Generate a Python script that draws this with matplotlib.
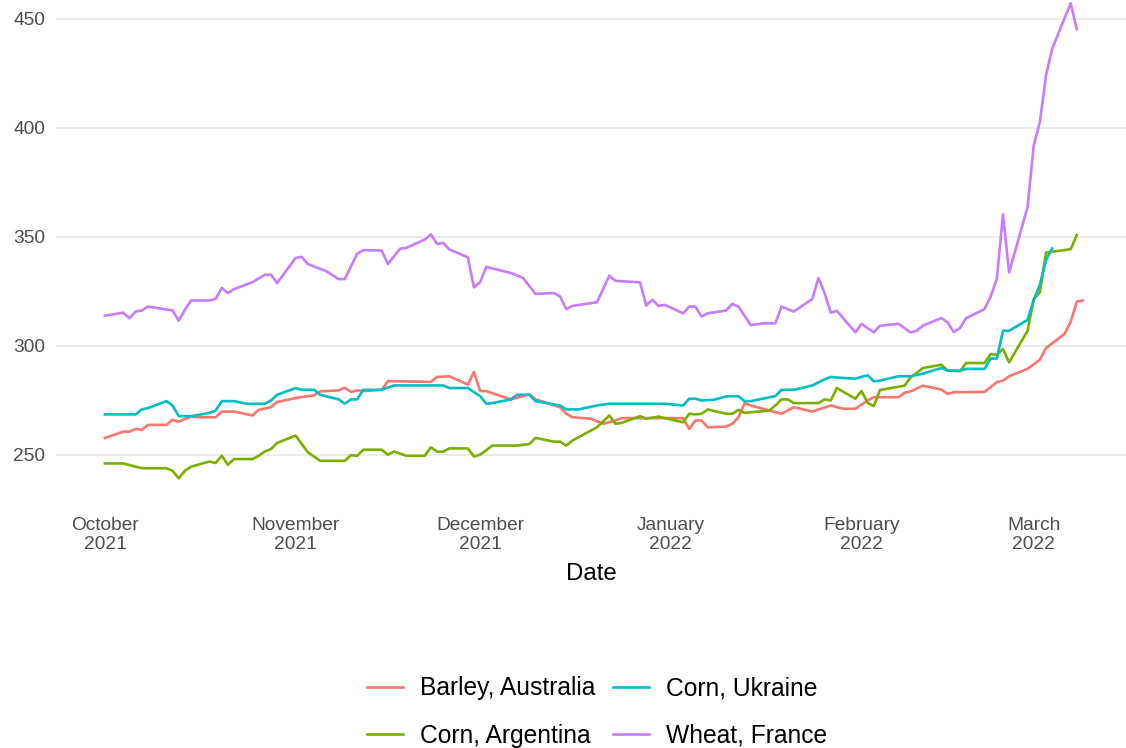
import numpy as np
import pandas as pd
import matplotlib
matplotlib.use("Agg")
import matplotlib.pyplot as plt
import matplotlib.dates as mdates

plt.rcParams["font.family"] = ["Liberation Sans", "DejaVu Sans"]

START = pd.Timestamp("2021-10-01")

# day offsets from START and prices
barley_days = [0, 3, 4, 5, 6, 7, 10, 11, 12, 14, 16, 18, 19, 21,
               24, 25, 27, 28, 31, 33, 34, 35, 38, 39, 40, 41, 42,
               45, 46, 48, 53, 54, 56, 59, 60, 61, 62, 66, 69, 70,
               74, 75, 76, 79, 81, 83, 84, 90, 94, 95, 96, 97, 98,
               101, 102, 103, 104, 105, 108, 110, 112, 115, 118, 120, 122, 124, 125,
               129, 130, 131, 133, 136, 137, 138,
               143, 145, 146, 147, 150, 152, 153, 156, 157, 158, 159]
barley_vals = [257.7, 260.6, 260.6, 261.8, 261.4, 263.7, 263.7, 266, 265.2, 267.5, 267.2, 267.2, 269.8, 269.8,
               268, 270.6, 271.8, 274.2, 276, 276.9, 277.2, 279.1, 279.5, 280.8, 278.8, 279.5, 279.2,
               279.8, 283.7, 283.7, 283.4, 285.7, 286, 282.2, 288, 279.2, 279.2, 275.4, 277.7, 275.4,
               271.8, 268.8, 267.2, 266.5, 264.2, 265.7, 266.8, 266.8, 266.8, 261.8, 265.7, 265.7, 262.6,
               262.9, 264.2, 267.2, 273.7, 272.6, 270.3, 268.8, 271.8, 269.8, 272.6, 271.1, 271.1, 274.9, 276.4,
               276.4, 278.4, 279.1, 281.7, 279.9, 277.9, 278.7,
               278.8, 283.3, 284, 286, 289.4, 293.6, 299, 305.4, 310.9, 320.3, 320.8]

arg_days = [0, 3, 5, 6, 10, 11, 12, 13, 14,
            17, 18, 19, 20, 21, 24, 25, 26, 27, 28,
            31, 33, 35, 39, 40, 41, 42,
            45, 46, 47, 49, 52, 53, 54, 55, 56,
            59, 60, 61, 63, 67, 69, 70,
            73, 74, 75, 76, 80, 82, 83, 84,
            87, 88, 90, 94, 95, 96, 97, 98,
            101, 102, 103, 104, 108, 109, 110, 111, 112,
            116, 117, 118, 119, 122, 123, 124, 125, 126,
            130, 131, 133, 136, 137, 139, 140,
            143, 144, 145, 146, 147,
            150, 151, 152, 153, 157, 158]
arg_vals = [246, 246, 244.5, 243.8, 243.8, 242.6, 239.2, 242.6, 244.5,
            246.9, 246.2, 249.5, 245.4, 248, 248, 249.5, 251.5, 252.6, 255.4,
            258.8, 251.1, 247.2, 247.2, 249.8, 249.5, 252.3,
            252.3, 250, 251.5, 249.5, 249.5, 253.4, 251.4, 251.4, 252.9,
            252.9, 249.2, 250, 254.2, 254.2, 254.9, 257.7,
            256, 256, 254.2, 256.5, 262.6, 268, 264.2, 264.6,
            267.7, 266.5, 267.5, 264.9, 268.8, 268.5, 268.8, 270.8,
            268.8, 268.8, 270.6, 269.2, 270.3, 272.6, 275.4, 275.4, 273.7,
            273.7, 275.4, 274.9, 280.6, 275.7, 279.2, 273.8, 272.3, 279.7,
            281.7, 285.5, 289.8, 291.3, 288.6, 288.3, 292.1,
            292.1, 296.2, 295.9, 298.5, 292.4,
            306.9, 321.4, 324.6, 342.8, 344.3, 350.8]

ukr_days = [0, 5, 6, 7, 10, 11, 12, 14,
            17, 18, 19, 21, 23, 26, 27, 28,
            31, 32, 34, 35, 38, 39, 40, 41, 42,
            45, 47, 55, 56, 59, 61, 62, 63,
            66, 67, 69, 70, 74, 75, 77, 80, 82, 84,
            91, 94, 95, 96, 97, 99, 101, 103, 104, 105,
            109, 110, 112, 115, 117, 118, 120, 122, 124, 125, 126,
            129, 131, 133, 136, 137, 139, 140, 143, 144, 145, 146, 147,
            150, 151, 152, 153, 154]
ukr_vals = [268.5, 268.5, 270.8, 271.4, 274.6, 272.6, 267.7, 267.7,
            269.2, 270.3, 274.6, 274.6, 273.4, 273.4, 274.9, 277.5,
            280.6, 279.8, 279.8, 277.5, 275.4, 273.4, 275.4, 275.4, 279.8,
            279.8, 281.8, 281.8, 280.6, 280.6, 276.9, 273.4, 273.7,
            275.4, 277.5, 277.5, 274.6, 272.6, 270.8, 270.8, 272.6, 273.4, 273.4,
            273.4, 272.6, 275.7, 275.7, 274.9, 275.2, 276.8, 276.8, 274.6, 274.6,
            276.9, 279.8, 279.8, 281.8, 284.6, 285.7, 285.2, 284.9, 286.5, 283.7, 284,
            286, 286, 287.2, 289.8, 288.6, 288.6, 289.4, 289.4, 294.1, 294.1, 306.9, 306.9,
            311.9, 321.1, 328, 339.4, 344.7]

wheat_days = [0, 3, 4, 5, 6, 7, 11, 12, 13, 14,
              17, 18, 19, 20, 21, 24, 26, 27, 28,
              31, 32, 33, 36, 38, 39, 41, 42,
              45, 46, 48, 49, 52, 53, 54, 55, 56,
              59, 60, 61, 62, 66, 68, 70,
              73, 74, 75, 76, 80, 82, 83,
              87, 88, 89, 90, 91, 94, 95, 96, 97, 98,
              101, 102, 103, 105, 107, 109, 110,
              112, 115, 116, 117, 118, 119,
              122, 123, 125, 126, 129, 131, 132, 133,
              136, 137, 138, 139, 140,
              143, 144, 145, 146, 147,
              150, 151, 152, 153, 154, 157, 158]
wheat_vals = [313.8, 315.2, 312.6, 315.7, 316.2, 318, 316.2, 311.5, 316.5, 320.8,
              320.8, 321.5, 326.5, 324.2, 326, 329.2, 332.6, 332.6, 328.8,
              340.3, 340.8, 337.5, 334.2, 330.6, 330.6, 342.2, 343.9,
              343.7, 337.5, 344.6, 344.9, 348.8, 351.1, 346.8, 347.2, 344.2,
              340.6, 326.8, 329.2, 336.2, 333.4, 331.1, 323.8,
              324.2, 322.6, 316.8, 318.3, 320, 332.2, 329.8,
              329.1, 318.5, 321.1, 318.3, 318.8, 314.9, 318, 318, 313.4, 314.9,
              316.2, 319.2, 318, 309.5, 310.3, 310.3, 318,
              315.7, 321.5, 331.1, 324.2, 315.2, 316,
              306.2, 310, 306.2, 309.2, 310.1, 306.1, 306.9, 309.3,
              312.7, 310.7, 306.3, 308.1, 312.7,
              316.8, 322.6, 330.6, 360.3, 333.6,
              363.8, 392, 402.7, 424.1, 436.3, 457.2, 445.4]

series = [
    ("Barley, Australia", barley_days, barley_vals, "#F8766D"),
    ("Corn, Argentina", arg_days, arg_vals, "#7CAE00"),
    ("Corn, Ukraine", ukr_days, ukr_vals, "#00BFC4"),
    ("Wheat, France", wheat_days, wheat_vals, "#C77CFF"),
]

tick_dates = pd.date_range("2021-10-01", "2022-03-01", freq="MS")
tick_labels = [d.strftime("%B\n%Y") for d in tick_dates]

W, H = 1126, 748
fig = plt.figure(figsize=(W / 100, H / 100), dpi=100)
ax = fig.add_axes([56 / W, 1 - 502 / H, 1 - 56 / W, 502 / H])

for name, days, vals, color in series:
    dates = START + pd.to_timedelta(days, unit="D")
    ax.plot(dates, vals, color=color, linewidth=1.9, label=name,
            solid_joinstyle="round")

ax.set_xlim(START - pd.Timedelta(days=7.95), START + pd.Timedelta(days=166.0))
ax.set_ylim(228.3, 458.7)
ax.set_yticks([250, 300, 350, 400, 450])
ax.set_xticks(tick_dates)
ax.set_xticklabels(tick_labels, linespacing=1.1)

ax.grid(axis="y", color="#EBEBEB", linewidth=1.4)
ax.grid(axis="x", visible=False)
ax.set_axisbelow(True)
for s in ax.spines.values():
    s.set_visible(False)
ax.tick_params(length=0, labelsize=13.8, labelcolor="#4D4D4D")
ax.tick_params(axis="y", pad=8)
ax.tick_params(axis="x", pad=11)
ax.set_xlabel("Date", fontsize=17.3, labelpad=7.5)

handles, labels = ax.get_legend_handles_labels()
fig.legend(handles, labels, loc="center", bbox_to_anchor=(597 / W, 1 - 712 / H),
           ncol=2, frameon=False, fontsize=17.7, handlelength=1.48,
           handletextpad=0.7, columnspacing=0.7, labelspacing=0.95)

fig.savefig("out.png", dpi=100, facecolor="white")
